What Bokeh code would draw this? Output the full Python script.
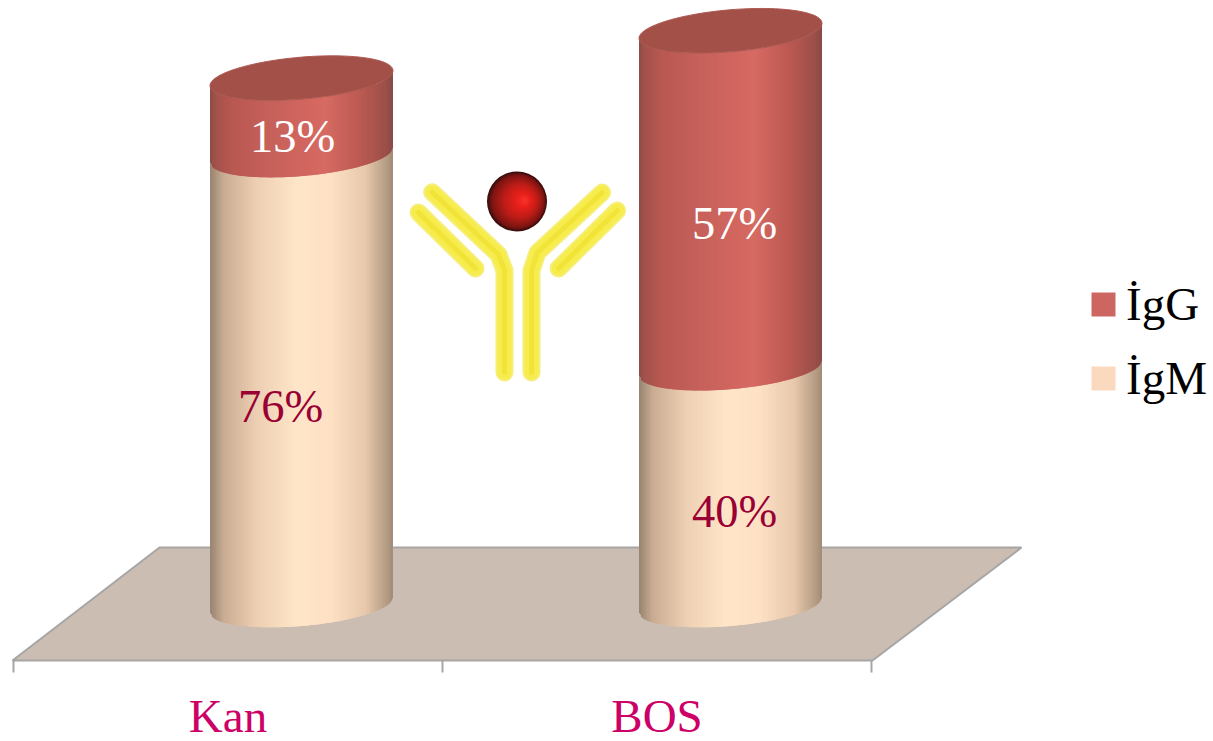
import numpy as np
from bokeh.core.properties import value
from bokeh.embed import file_html
from bokeh.models import ColumnDataSource, Legend, LegendItem, Range1d
from bokeh.plotting import figure
from bokeh.resources import INLINE

# Chart values, in percent
categories = ["Kan", "BOS"]
series_names = ["İgG", "İgM"]
igm_values = [76, 40]
igg_values = [13, 57]

# Canvas geometry (pixels) of the pseudo-3D scene
W, H = 1213, 741
AXIS_Y = 660
AXIS_X0, CAT_W = 13, 429
BASE_Y, PX_PER_PCT = 604.5, 5.92
CYL_SHIFT = 73.5 / CAT_W      # cylinders stand back on the floor, right of their slots
CYL_HALF = 91.5 / CAT_W
ELL_B, ELL_SHEAR = 21.0, 7.5  # ellipse half-height and tilt, pixels
N_STRIPS = 92

SERIF = "Liberation Serif"
RED_STOPS = [(-1, "#8c4c47"), (-.93, "#a4524c"), (-.75, "#b95850"), (-.4, "#c4605a"), (.05, "#d2665f"),
             (.25, "#d66b63"), (.6, "#bf5b53"), (.9, "#9f504a"), (1, "#8a4a45")]
PEACH_STOPS = [(-1, "#978370"), (-.85, "#c9ac93"), (-.5, "#edceb2"), (-.05, "#ffe5c8"),
               (.3, "#ffe1c5"), (.7, "#e7c8ac"), (.95, "#b09880"), (1, "#9f8b78")]


def hx(px):
    """Horizontal canvas pixel to category units."""
    return (np.asarray(px, dtype=float) - AXIS_X0) / CAT_W


def vy(py):
    """Vertical canvas pixel to percent units."""
    return (BASE_Y - np.asarray(py, dtype=float)) / PX_PER_PCT


def ramp(stops, u):
    """Interpolate a colour ramp across the cylinder, u from -1 to 1."""
    xs = [s[0] for s in stops]
    rgb = [[int(s[1][i:i + 2], 16) for i in (1, 3, 5)] for s in stops]
    return "#%02x%02x%02x" % tuple(int(round(np.interp(u, xs, [c[k] for c in rgb]))) for k in range(3))


def front_curve(level, u):
    """Front edge of the tilted ellipse at a percent level, in percent units."""
    drop = ELL_B * np.sqrt(np.clip(1 - u ** 2, 0, 1)) - ELL_SHEAR * u
    return level - drop / PX_PER_PCT


def strips(center, low, high, stops):
    """Vertical strips shading one cylinder segment; each overlaps the next to hide seams."""
    edges = np.linspace(-1, 1, N_STRIPS + 1)
    step = edges[1] - edges[0]
    xs, ys, cols = [], [], []
    for a, b in zip(edges[:-1], edges[1:]):
        r = min(b + step, 1.0)
        xs.append([center + a * CYL_HALF, center + r * CYL_HALF, center + r * CYL_HALF, center + a * CYL_HALF])
        ys.append([front_curve(high, a), front_curve(high, r), front_curve(low, r), front_curve(low, a)])
        cols.append(ramp(stops, (a + b) / 2))
    return xs, ys, cols


p = figure(width=W, height=H, output_backend="svg", toolbar_location=None,
           x_axis_location=None, y_axis_location=None,
           x_range=Range1d(hx(0), hx(W)), y_range=Range1d(vy(H), vy(0)),
           min_border=0, outline_line_color=None,
           background_fill_color="white", border_fill_color="white")
p.grid.visible = False

# Floor plane
p.patch(hx([159, 1021, 872, 12]), vy([547, 547, AXIS_Y, AXIS_Y]), fill_color="#cbbdb1",
        line_color="#a6a6a6", line_width=2)

# Category axis drawn on the floor's front edge, ticks on the slot boundaries
n_cat = len(categories)
boundaries = list(range(n_cat + 1))
p.segment(boundaries, [float(vy(AXIS_Y))] * (n_cat + 1), boundaries, [float(vy(AXIS_Y + 12))] * (n_cat + 1),
          line_color="#a6a6a6", line_width=2)
p.text([i + 0.5 for i in range(n_cat)], [float(vy(715))] * n_cat, text=categories, text_align="center",
       text_baseline="middle", text_line_height=1.0, text_font=value(SERIF), text_font_size="47px",
       text_color="#cc0066")

# Cylinders
px_s, py_s, pc_s = [], [], []
top_xs, top_ys = [], []
t = np.linspace(0, 2 * np.pi, 120)
for i, (m, g) in enumerate(zip(igm_values, igg_values)):
    c = i + 0.5 + CYL_SHIFT
    for low, high, stops in ((0, m, PEACH_STOPS), (m, m + g, RED_STOPS)):
        a, b, col = strips(c, low, high, stops)
        px_s += a
        py_s += b
        pc_s += col
    top_xs.append(list(c + CYL_HALF * np.cos(t)))
    top_ys.append(list((m + g) - (ELL_B * np.sin(t) - ELL_SHEAR * np.cos(t)) / PX_PER_PCT))
p.patches("x", "y", fill_color="c", line_color=None,
          source=ColumnDataSource(dict(x=px_s, y=py_s, c=pc_s)))
p.patches(top_xs, top_ys, fill_color="#a35049", line_color="#ad5a52", line_width=1)

# Antibody emblem between the cylinders
arms_x = [[431.7, 498, 504, 504], [601.7, 537, 531, 531], [418, 475], [616.7, 558]]
arms_y = [[191.7, 254, 270, 372], [192, 252, 270, 372], [212, 268], [210, 268]]
ab_x = [list(hx(a)) for a in arms_x]
ab_y = [list(vy(a)) for a in arms_y]
for width, col in ((18, "#f7ee7a"), (14, "#f6ec4c"), (5, "#f2e338")):
    p.multi_line(ab_x, ab_y, line_color=col, line_width=width, line_cap="round", line_join="round")

# Shaded red sphere on top of the antibody
sphere_r = np.linspace(30, 2, 29)
mix = (30 - sphere_r) / 28
sphere_cols = [ramp([(0, "#3a0d0d"), (.12, "#7d1512"), (.45, "#bd1d18"), (.8, "#e8201a"), (1, "#f5302a")], m) for m in mix]
p.scatter(hx(516.5 + 8 * mix), vy(201 - 1 * mix), size=2 * sphere_r, marker="circle",
          fill_color=sphere_cols, line_color=None)

# Percentage labels, sitting a little below each segment's middle: (igm, igg) nudges in pixels
lab_nudge_x = {"Kan": (-21, -9), "BOS": (4, 4)}
lab_nudge_y = {"Kan": (26, 20), "BOS": (25, 24)}
lab_x, lab_y, lab_t, lab_c, lab_ox, lab_oy = [], [], [], [], [], []
for i, (m, g) in enumerate(zip(igm_values, igg_values)):
    c = i + 0.5 + CYL_SHIFT
    lab_x += [c, c]
    lab_y += [m / 2, m + g / 2]
    lab_t += [f"{m}%", f"{g}%"]
    lab_c += ["#990033", "#ffffff"]
    lab_ox += list(lab_nudge_x[categories[i]])
    lab_oy += list(lab_nudge_y[categories[i]])
p.text("x", "y", text="t", text_color="c", x_offset="ox", y_offset="oy", text_align="center",
       text_baseline="middle", text_font=value(SERIF), text_font_size="46.5px",
       source=ColumnDataSource(dict(x=lab_x, y=lab_y, t=lab_t, c=lab_c, ox=lab_ox, oy=lab_oy)))

# Legend keyed by flat swatches
nan = [float("nan")]
key_g = p.quad(left=nan, right=nan, top=nan, bottom=nan, fill_color="#cd6660", line_color=None)
key_m = p.quad(left=nan, right=nan, top=nan, bottom=nan, fill_color="#fbd9be", line_color=None)
legend = Legend(items=[LegendItem(label=series_names[0], renderers=[key_g]),
                       LegendItem(label=series_names[1], renderers=[key_m])],
                location=(1088, 336), orientation="vertical", background_fill_alpha=0,
                border_line_color=None, margin=0, padding=0, spacing=20,
                glyph_width=30, glyph_height=30, label_standoff=8,
                label_text_font=SERIF, label_text_font_size="47px", label_text_color="#000000")
p.add_layout(legend, "center")

open("out.html", "w").write(file_html(p, INLINE))
